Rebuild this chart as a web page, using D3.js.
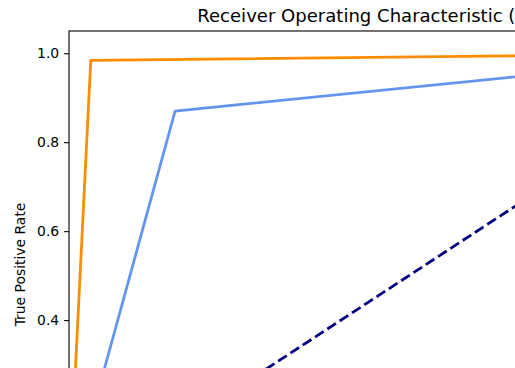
<!DOCTYPE html>
<html>
<head>
<meta charset="utf-8">
<script src="https://cdn.jsdelivr.net/npm/d3@7"></script>
<style>
  html, body { margin: 0; padding: 0; background: #fff; overflow: hidden; }
  svg { display: block; }
  text { font-family: "DejaVu Sans", sans-serif; fill: #000; }
</style>
</head>
<body>
<svg id="chart" width="515" height="368"></svg>
<script>
// ROC curve points (false positive rate, true positive rate)
const fprA = [0.0, 0.032, 1.0];
const tprA = [0.0, 0.984, 1.0];
const fprB = [0.0, 0.156, 1.0];
const tprB = [0.0, 0.870, 1.0];
const chanceX = [0, 1];
const chanceY = [0, 1];
const yTicks = [0.0, 0.2, 0.4, 0.6, 0.8, 1.0];
const titleText = "Receiver Operating Characteristic (ROC) Curve";
const yLabel = "True Positive Rate";

const W = 515, H = 368;
const svg = d3.select("#chart");

// axes box (extends past the bottom/right of the canvas)
const axLeft = 69, axTop = 31, plotW = 680, plotH = 467;
const x = d3.scaleLinear().domain([0, 1]).range([axLeft, axLeft + plotW]);
const y = d3.scaleLinear().domain([0, 1.05]).range([axTop + plotH, axTop]);

const line = d3.line().x(d => x(d[0])).y(d => y(d[1]));

// curves
const g = svg.append("g");
g.append("path")
  .datum(d3.zip(chanceX, chanceY))
  .attr("d", line)
  .attr("fill", "none")
  .attr("stroke", "navy")
  .attr("stroke-width", 2.78)
  .attr("stroke-dasharray", "10.3,4.4");

g.append("path")
  .datum(d3.zip(fprB, tprB))
  .attr("d", line)
  .attr("fill", "none")
  .attr("stroke", "cornflowerblue")
  .attr("stroke-width", 2.78)
  .attr("stroke-linejoin", "round");

g.append("path")
  .datum(d3.zip(fprA, tprA))
  .attr("d", line)
  .attr("fill", "none")
  .attr("stroke", "darkorange")
  .attr("stroke-width", 2.78)
  .attr("stroke-linejoin", "round");

// frame
svg.append("rect")
  .attr("x", axLeft).attr("y", axTop)
  .attr("width", plotW).attr("height", plotH)
  .attr("fill", "none").attr("stroke", "#000").attr("stroke-width", 1.1);

// y axis (only ticks that fall inside the canvas)
const shownY = yTicks.filter(v => y(v) < H);
const yAxis = d3.axisLeft(y).tickValues(shownY).tickFormat(d3.format(".1f"))
  .tickSize(4.9).tickPadding(4.9);
const ya = svg.append("g").attr("transform", `translate(${axLeft},0)`).call(yAxis);
ya.select(".domain").remove();
ya.selectAll("line").attr("stroke", "#000").attr("stroke-width", 1.1);
ya.selectAll("text").attr("font-size", "13.9px").attr("font-family", "DejaVu Sans").attr("fill", "#000");

// y label
svg.append("text")
  .attr("transform", `translate(25,${axTop + plotH / 2}) rotate(-90)`)
  .attr("text-anchor", "middle")
  .attr("font-size", "13.9px")
  .text(yLabel);

// title
svg.append("text")
  .attr("x", axLeft + plotW / 2)
  .attr("y", 22.3)
  .attr("text-anchor", "middle")
  .attr("font-size", "18.06px")
  .text(titleText);
</script>
</body>
</html>
